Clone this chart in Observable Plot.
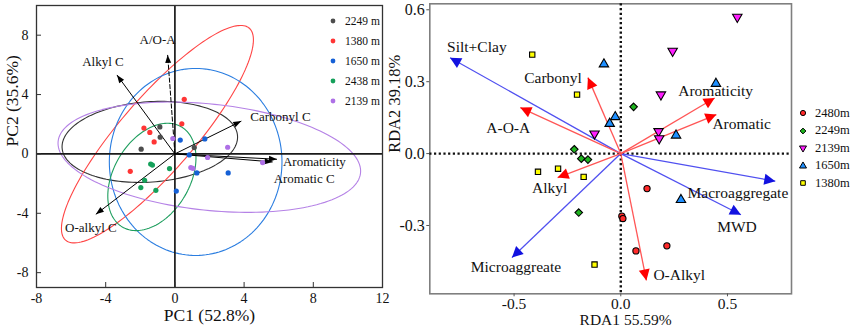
<!DOCTYPE html>
<html>
<head>
<meta charset="utf-8">
<script src="https://cdn.jsdelivr.net/npm/d3@7"></script>
<script src="https://cdn.jsdelivr.net/npm/@observablehq/plot@0.6"></script>
<style>
  body { margin: 0; background: #fff; }
  #wrap { position: relative; width: 851px; height: 326px; overflow: hidden; background: #fff;
          font-family: "Liberation Serif", "Times New Roman", serif; }
  #left { position: absolute; left: 0; top: 0; width: 400px; height: 326px; }
  #right { position: absolute; left: 385px; top: 0; width: 466px; height: 326px; }
  .row { position: absolute; display: flex; align-items: center; white-space: nowrap; color: #111; }
</style>
</head>
<body>
<div id="wrap">
  <div id="left"></div>
  <div id="right"></div>
  <div id="legL"></div>
  <div id="legR"></div>
</div>
<script>
// ================= LEFT PANEL: PCA =================
const pcaGroups = ["2249 m", "1380 m", "1650 m", "2438 m", "2139 m"];
const pcaXTicks = [-8, -4, 0, 4, 8, 12];
const pcaYTicks = [-8, -4, 0, 4, 8];

// sample scores
const pcaGroup = [
  "2249 m","2249 m","2249 m","2249 m",
  "1380 m","1380 m","1380 m","1380 m","1380 m","1380 m",
  "1650 m","1650 m","1650 m","1650 m","1650 m","1650 m",
  "2438 m","2438 m","2438 m","2438 m","2438 m","2438 m",
  "2139 m","2139 m","2139 m","2139 m","2139 m","2139 m"
];
const pc1 = [
  -0.87, -0.85, -1.95, 1.12,
  0.54, 0.40, -1.79, -1.45, -1.20, -2.58,
  0.31, 1.73, 0.83, 1.27, 3.08, 0.08,
  -1.40, -1.30, -0.31, -1.75, -1.97, -1.10,
  -0.12, 3.05, 1.89, 0.92, 1.04, 5.07
];
const pc2 = [
  1.82, 1.13, 0.32, 0.43,
  3.68, 2.03, 1.74, 1.45, 0.81, -1.17,
  0.93, 1.01, -0.07, -1.28, -1.28, -2.50,
  -0.68, -0.75, -0.99, -1.78, -2.27, -2.45,
  1.04, 0.45, -0.24, -0.92, -0.97, -0.58
];

// confidence ellipses: centre and two conjugate semi-axis vectors (data units)
const ellGroup = ["2249 m", "1380 m", "1650 m", "2438 m", "2139 m"];
const ellCX = [-1.45, -1.01, 1.20, -1.33, 1.99];
const ellCY = [0.81, 1.33, -0.54, -1.55, -0.22];
const ellUX = [5.07, 5.31, 4.99, 1.71, 8.74];
const ellUY = [0.41, 7.14, 0.00, 3.37, -1.07];
const ellVX = [-0.16, -1.61, 0.00, -1.89, 0.32];
const ellVY = [2.70, 1.64, 6.30, 1.31, 3.56];

// loadings
const loadName = ["Alkyl C", "A/O-A", "Carbonyl C", "Aromaticity", "Aromatic C", "O-alkyl C"];
const loadX = [-3.35, -0.42, 3.84, 5.90, 5.65, -4.57];
const loadY = [5.32, 6.67, 2.21, -0.36, -0.54, -4.07];

// ================= RIGHT PANEL: RDA =================
const rdaGroups = ["2480m", "2249m", "2139m", "1650m", "1380m"];
const rdaXTicks = [-0.5, 0, 0.5];
const rdaYTicks = [-0.3, 0, 0.3, 0.6];
const rdaGroup = [
  "2480m","2480m","2480m","2480m","2480m",
  "2249m","2249m","2249m","2249m","2249m",
  "2139m","2139m","2139m","2139m","2139m","2139m",
  "1650m","1650m","1650m","1650m","1650m","1650m",
  "1380m","1380m","1380m","1380m","1380m","1380m"
];
const rda1 = [
  0.123, 0.005, 0.010, 0.071, 0.216,
  0.060, -0.218, -0.185, -0.154, -0.197,
  0.546, 0.243, 0.188, 0.177, 0.180, -0.123,
  -0.079, 0.446, -0.026, -0.052, 0.259, 0.282,
  -0.415, -0.205, -0.388, -0.294, -0.174, -0.123
];
const rda2 = [
  -0.146, -0.261, -0.271, -0.406, -0.385,
  0.195, 0.018, -0.021, -0.025, -0.246,
  0.570, 0.428, 0.246, 0.093, 0.063, 0.083,
  0.373, 0.292, 0.153, 0.125, 0.076, -0.193,
  0.413, 0.246, -0.076, -0.063, -0.097, -0.463
];
// environmental (aggregate) vectors - blue
const envName = ["Silt+Clay", "Macroaggregate", "MWD", "Microaggreate"];
const envX = [-0.800, 0.724, 0.563, -0.510];
const envY = [0.400, -0.115, -0.255, -0.434];
// carbon-structure vectors - red
const spcName = ["Carbonyl", "A-O-A", "Aromaticity", "Aromatic", "Alkyl", "O-Alkyl"];
const spcX = [-0.154, -0.471, 0.440, 0.448, -0.296, 0.120];
const spcY = [0.317, 0.192, 0.232, 0.163, -0.100, -0.529];

// ================= STYLES =================
const FONT = "'Liberation Serif', 'Times New Roman', serif";
const colPt = {"2249 m": "#4d4d4d", "1380 m": "#ff3535", "1650 m": "#1560d6", "2438 m": "#15a05a", "2139 m": "#ae70e6"};
const colEll = {"2249 m": "#333333", "1380 m": "#ff4545", "1650 m": "#2a7de0", "2438 m": "#1e9e5e", "2139 m": "#b582e6"};
const loadLabelStyle = {
  "Alkyl C": {dx: -14, dy: -13, anchor: "middle"},
  "A/O-A": {dx: -10, dy: -15, anchor: "middle"},
  "Carbonyl C": {dx: 9, dy: -4, anchor: "start"},
  "Aromaticity": {dx: 6, dy: 3, anchor: "start"},
  "Aromatic C": {dx: 1, dy: 17, anchor: "start"},
  "O-alkyl C": {dx: -5, dy: 13, anchor: "middle"}
};
const rdaLabelStyle = {
  "Silt+Clay": {dx: -3, dy: -11, anchor: "start"},
  "Macroaggregate": {dx: 13, dy: 12, anchor: "end"},
  "MWD": {dx: -4, dy: 12, anchor: "middle"},
  "Microaggreate": {dx: 4, dy: 9, anchor: "middle"},
  "Carbonyl": {dx: -6, dy: 0, anchor: "end"},
  "A-O-A": {dx: -12, dy: 20, anchor: "middle"},
  "Aromaticity": {dx: 1, dy: -7, anchor: "middle"},
  "Aromatic": {dx: -4, dy: 10, anchor: "start"},
  "Alkyl": {dx: -8, dy: 10, anchor: "middle"},
  "O-Alkyl": {dx: 7, dy: -5, anchor: "start"}
};
const rdaSym = {
  "2480m": {symbol: "circle", fill: "#ff2a2a", rotate: 0, r: 3.1},
  "2249m": {symbol: "diamond2", fill: "#1fb41f", rotate: 0, r: 3.4},
  "2139m": {symbol: "triangle", fill: "#ff1eff", rotate: 180, r: 3.5},
  "1650m": {symbol: "triangle", fill: "#1e8fff", rotate: 0, r: 3.5},
  "1380m": {symbol: "square", fill: "#ffff00", rotate: 0, r: 3.0}
};

// ================= BUILD TABLES =================
const pcaPts = pcaGroup.map((g, i) => ({g, x: pc1[i], y: pc2[i]}));
const ellRows = [];
ellGroup.forEach((g, i) => {
  for (let k = 0; k <= 160; ++k) {
    const t = 2 * Math.PI * k / 160;
    ellRows.push({g, x: ellCX[i] + ellUX[i] * Math.cos(t) + ellVX[i] * Math.sin(t),
                     y: ellCY[i] + ellUY[i] * Math.cos(t) + ellVY[i] * Math.sin(t)});
  }
});
const loads = loadName.map((n, i) => ({n, x: loadX[i], y: loadY[i]}));
const rdaPts = rdaGroup.map((g, i) => ({g, x: rda1[i], y: rda2[i]}));
const envs = envName.map((n, i) => ({n, x: envX[i], y: envY[i]}));
const spcs = spcName.map((n, i) => ({n, x: spcX[i], y: spcY[i]}));

// filled arrow heads: restyle the markers that Plot created for the links
function fillMarkers(svg, spec) {
  svg.querySelectorAll("marker").forEach(m => {
    const c = m.getAttribute("stroke");
    const s = spec[c];
    if (!s) return;
    m.setAttribute("viewBox", "-20 -20 40 40");
    m.setAttribute("markerWidth", 40);
    m.setAttribute("markerHeight", 40);
    m.setAttribute("markerUnits", "userSpaceOnUse");
    m.setAttribute("fill", s.fill);
    m.setAttribute("stroke", "none");
    const p = m.querySelector("path");
    p.setAttribute("d", `M${-s.len},${-s.wid / 2}L0,0L${-s.len},${s.wid / 2}Z`);
  });
}

// ================= LEFT PLOT =================
const W1 = 400, H = 326, mL1 = 36, mR1 = 18, mT1 = 5, mB1 = 39;
const leftMarks = [
  Plot.line(ellRows, {x: "x", y: "y", z: "g", stroke: d => colEll[d.g], strokeWidth: 1.1}),
  Plot.ruleX([0], {stroke: "#1a1a1a", strokeWidth: 1.7}),
  Plot.ruleY([0], {stroke: "#1a1a1a", strokeWidth: 1.7}),
  Plot.frame({stroke: "#333", strokeWidth: 1.3}),
  Plot.tickX(pcaXTicks, {x: d => d, insetTop: H - mT1 - mB1 - 5, stroke: "#333"}),
  Plot.tickY(pcaYTicks, {y: d => d, insetRight: W1 - mL1 - mR1 - 5, stroke: "#333"}),
  Plot.axisX({ticks: pcaXTicks, tickSize: 0, tickPadding: 6, tickFormat: d => String(d), label: null, fontSize: 14, fill: "#111"}),
  Plot.axisY({ticks: pcaYTicks, tickSize: 0, tickPadding: 8, tickFormat: d => String(d), label: null, fontSize: 14, fill: "#111"}),
  Plot.link(loads.filter(d => d.n !== "A/O-A"), {x1: () => 0, y1: () => 0, x2: "x", y2: "y", stroke: "#000", strokeWidth: 1, markerEnd: "arrow"}),
  Plot.link(loads.filter(d => d.n === "A/O-A"), {x1: () => 0, y1: () => 0, x2: "x", y2: "y", stroke: "#000", strokeWidth: 1, strokeDasharray: "5,1.5", markerEnd: "arrow"}),
  Plot.dot(pcaPts, {x: "x", y: "y", r: 2.6, fill: d => colPt[d.g]}),
  Plot.text(["PC1 (52.8%)"], {frameAnchor: "bottom", dy: 28, lineAnchor: "middle", fontSize: 17.5, fill: "#111"}),
  Plot.text(["PC2 (35.6%)"], {frameAnchor: "left", dx: -24, rotate: -90, lineAnchor: "middle", fontSize: 17.5, fill: "#111"})
];
loads.forEach(d => {
  const s = loadLabelStyle[d.n];
  leftMarks.push(Plot.text([d], {x: "x", y: "y", text: "n", dx: s.dx, dy: s.dy, textAnchor: s.anchor, fontSize: 13, fill: "#111"}));
});
const leftSvg = Plot.plot({
  width: W1, height: H, marginLeft: mL1, marginRight: mR1, marginTop: mT1, marginBottom: mB1,
  x: {domain: [-8, 12]}, y: {domain: [-9, 10]},
  style: {fontFamily: FONT, fontSize: "14px", background: "transparent", overflow: "visible"},
  marks: leftMarks
});
fillMarkers(leftSvg, {"#000": {len: 8, wid: 6, fill: "#000"}});
document.getElementById("left").append(leftSvg);

// ================= RIGHT PLOT =================
const W2 = 466, mL2 = 44.3, mR2 = 60, mT2 = 3.3, mB2 = 32.7;
const RED_LINE = "#ff5656", BLUE_LINE = "#5050f0";
const rightMarks = [
  Plot.frame({stroke: "#7f7f7f", strokeWidth: 1.6}),
  Plot.ruleX([0], {stroke: "#111", strokeWidth: 2.4, strokeDasharray: "2.2,2.5"}),
  Plot.ruleY([0], {stroke: "#111", strokeWidth: 2.4, strokeDasharray: "2.2,2.5"}),
  Plot.axisX({ticks: rdaXTicks, tickSize: 3, tickPadding: 1.5, tickFormat: d => d.toFixed(1), label: null, fontSize: 15.5, stroke: "#555", fill: "#111"}),
  Plot.axisY({ticks: rdaYTicks, tickSize: 3, tickPadding: 2, tickFormat: d => d.toFixed(1), label: null, fontSize: 16, stroke: "#555", fill: "#111"}),
  Plot.link(envs, {x1: () => 0, y1: () => 0, x2: "x", y2: "y", stroke: BLUE_LINE, strokeWidth: 1.3, markerEnd: "arrow"}),
  Plot.link(spcs, {x1: () => 0, y1: () => 0, x2: "x", y2: "y", stroke: RED_LINE, strokeWidth: 1.3, markerEnd: "arrow"}),
  Plot.text(["RDA1 55.59%"], {frameAnchor: "bottom", dx: 15, dy: 26.5, lineAnchor: "middle", fontSize: 15.5, fill: "#111"}),
  Plot.text(["RDA2 39.18%"], {frameAnchor: "left", dx: -35, dy: 4, rotate: -90, lineAnchor: "middle", fontSize: 16.5, fill: "#111"})
];
rdaGroups.forEach(g => {
  const s = rdaSym[g];
  rightMarks.push(Plot.dot(rdaPts.filter(d => d.g === g), {x: "x", y: "y", r: s.r, symbol: s.symbol, rotate: s.rotate, fill: s.fill, stroke: "#000", strokeWidth: 1.1}));
});
envs.concat(spcs).forEach(d => {
  const s = rdaLabelStyle[d.n];
  rightMarks.push(Plot.text([d], {x: "x", y: "y", text: "n", dx: s.dx, dy: s.dy, textAnchor: s.anchor, fontSize: 15.5, fill: "#111"}));
});
const rightSvg = Plot.plot({
  width: W2, height: H, marginLeft: mL2, marginRight: mR2, marginTop: mT2, marginBottom: mB2,
  x: {domain: [-0.895, 0.8]}, y: {domain: [-0.585, 0.625]},
  style: {fontFamily: FONT, fontSize: "16px", background: "transparent", overflow: "visible"},
  marks: rightMarks
});
fillMarkers(rightSvg, {
  [RED_LINE]: {len: 11, wid: 11, fill: "#ff0000"},
  [BLUE_LINE]: {len: 11, wid: 11, fill: "#1212e0"}
});
document.getElementById("right").append(rightSvg);

// ================= LEGENDS =================
const symPath = {circle: d3.symbolCircle, diamond2: d3.symbolDiamond2, triangle: d3.symbolTriangle, square: d3.symbolSquare};
const legL = document.getElementById("legL");
pcaGroups.forEach((g, i) => {
  const row = document.createElement("div");
  row.className = "row";
  row.style.left = "329px";
  row.style.top = (20.7 + 20 * i - 8) + "px";
  row.style.height = "16px";
  row.style.fontSize = "11.5px";
  row.innerHTML = `<svg width="8" height="16"><circle cx="4" cy="8" r="2.4" fill="${colPt[g]}"/></svg><span style="margin-left:8px">${g}</span>`;
  legL.append(row);
});
const legR = document.getElementById("legR");
rdaGroups.forEach((g, i) => {
  const s = rdaSym[g];
  const d = d3.symbol(symPath[s.symbol], Math.PI * 2.6 * 2.6)();
  const row = document.createElement("div");
  row.className = "row";
  row.style.left = "797px";
  row.style.top = (113.3 + 17.5 * i - 8) + "px";
  row.style.height = "16px";
  row.style.fontSize = "12.5px";
  row.innerHTML = `<svg width="12" height="16"><path d="${d}" transform="translate(6,8) rotate(${s.rotate})" fill="${s.fill}" stroke="#000" stroke-width="1"/></svg><span style="margin-left:6px">${g}</span>`;
  legR.append(row);
});
</script>
</body>
</html>
